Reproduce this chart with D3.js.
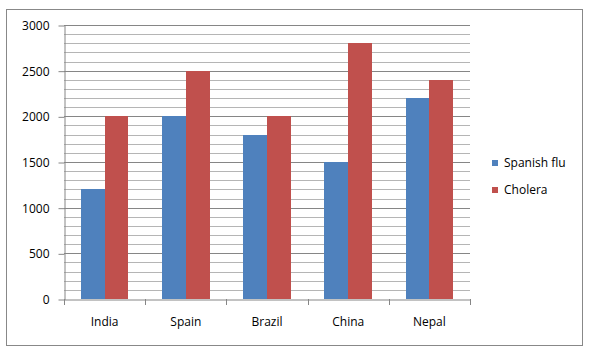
<!DOCTYPE html>
<html><head><meta charset="utf-8">
<script src="https://cdn.jsdelivr.net/npm/d3@7"></script>
<style>body{margin:0;background:#fff}svg{display:block}text{font-family:"Open Sans","Liberation Sans",sans-serif;fill:#000}</style>
</head><body>
<svg id="c" width="594" height="356"></svg>
<script>
const categories = ["India","Spain","Brazil","China","Nepal"];
const seriesNames = ["Spanish flu","Cholera"];
const spanishFlu = [1200,2000,1800,1500,2200];
const cholera = [2000,2500,2000,2800,2400];
const yTicks = [0,500,1000,1500,2000,2500,3000];
const colors = ["#4F81BD","#C0504D"];

const svg = d3.select("#c");
svg.append("rect").attr("x",6.5).attr("y",9.5).attr("width",576).attr("height",336)
  .attr("fill","#fff").attr("stroke","#888").attr("stroke-width",1);

const L=64, R=470, T=25, B=299;
const x = d3.scaleBand().domain(categories).range([L,R]);
const y = d3.scaleLinear().domain([0,3000]).range([B,T]);

// minor gridlines
const minor = d3.range(100,3001,100).filter(v=>v%500!==0);
svg.append("g").selectAll("line").data(minor).join("line")
  .attr("x1",L).attr("x2",R).attr("y1",d=>Math.round(y(d))+0.5).attr("y2",d=>Math.round(y(d))+0.5)
  .attr("stroke","#b5b5b5").attr("stroke-width",1);
svg.append("g").selectAll("line").data(yTicks.filter(v=>v>0)).join("line")
  .attr("x1",L).attr("x2",R).attr("y1",d=>Math.round(y(d))+0.5).attr("y2",d=>Math.round(y(d))+0.5)
  .attr("stroke","#868686").attr("stroke-width",1);

// bars
const inner = d3.scaleBand().domain(seriesNames).range([0,x.bandwidth()]).paddingOuter(0.71).paddingInner(0);
const data = [spanishFlu, cholera];
categories.forEach((c,i)=>{
  seriesNames.forEach((s,j)=>{
    const x0 = Math.round(x(c)+inner(s)), x1 = Math.round(x(c)+inner(s)+inner.bandwidth());
    const yv = Math.round(y(data[j][i]));
    svg.append("rect").attr("x",x0).attr("width",x1-x0)
      .attr("y",yv).attr("height",B-yv).attr("fill",colors[j]).attr("shape-rendering","crispEdges");
  });
});

// y axis
const yAxis = d3.axisLeft(y).tickValues(yTicks).tickFormat(d3.format("d")).tickSize(6).tickPadding(9).tickSizeOuter(0);
const gy = svg.append("g").attr("transform",`translate(${L+0.5},0.5)`).call(yAxis);
gy.selectAll("line,path").attr("stroke","#868686");
gy.selectAll("text").style("font-size","12px").attr("fill","#000");

// x axis
const xAxis = d3.axisBottom(x).tickSize(0).tickSizeOuter(0).tickPadding(18);
const gx = svg.append("g").attr("transform",`translate(0,${B+0.5})`).call(xAxis);
gx.select("path").attr("stroke","#868686");
gx.selectAll("text").style("font-size","12px").attr("fill","#000");
const edges = categories.map(c=>x(c)).concat([R]);
svg.append("g").selectAll("line").data(edges).join("line")
  .attr("x1",d=>Math.round(d)+0.5).attr("x2",d=>Math.round(d)+0.5).attr("y1",B).attr("y2",B+6)
  .attr("stroke","#868686");

// legend
const lg = svg.append("g");
seriesNames.forEach((s,j)=>{
  const yy = 160 + j*27;
  lg.append("rect").attr("x",492).attr("y",yy).attr("width",6).attr("height",6).attr("fill",colors[j]);
  lg.append("text").attr("x",504).attr("y",yy+3).attr("dy","0.35em").style("font-size","12px").text(s);
});
</script>
</body></html>
